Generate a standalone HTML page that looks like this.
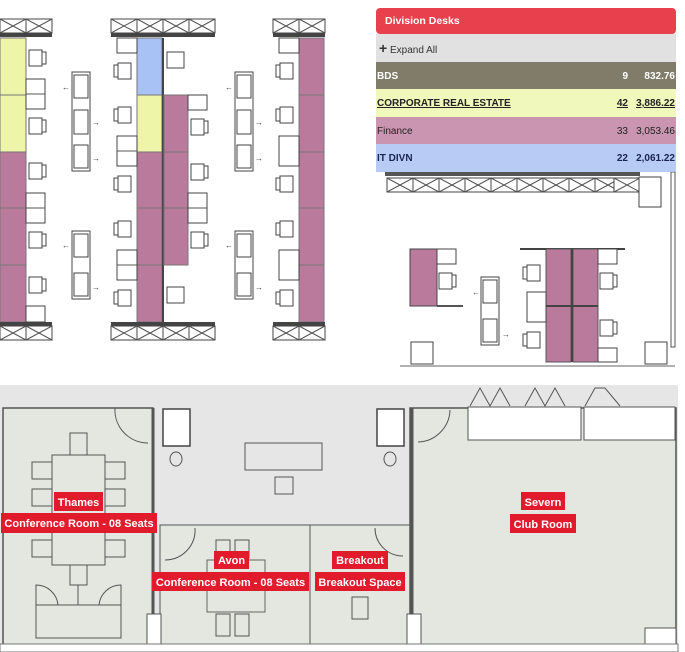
<!DOCTYPE html>
<html><head><meta charset="utf-8"><style>
html,body{margin:0;padding:0;background:#fff;}
svg{display:block;font-family:"Liberation Sans",Arial,sans-serif;}
.l{fill:#fff;stroke:#444;stroke-width:1}
.lt{fill:none;stroke:#555;stroke-width:1}
.lab{fill:#fff;font-weight:bold;font-size:11px}
</style></head><body>
<svg width="685" height="652" viewBox="0 0 685 652" xmlns="http://www.w3.org/2000/svg">
<defs>
<g id="chairR"><rect x="0" y="0" width="13" height="16" class="l"/><rect x="13" y="2" width="4" height="12" class="l"/></g>
<g id="chairL"><rect x="4" y="0" width="13" height="16" class="l"/><rect x="0" y="2" width="4" height="12" class="l"/></g>
<g id="xbox"><rect x="0" y="0" width="26" height="14" fill="#fff" stroke="#444"/><line x1="0" y1="0" x2="26" y2="14" stroke="#555"/><line x1="0" y1="14" x2="26" y2="0" stroke="#555"/></g>
</defs>

<g>
<use href="#xbox" x="0" y="19"/><use href="#xbox" x="26" y="19"/>
<rect x="0" y="33" width="52" height="4" fill="#444"/>
<rect x="0" y="38" width="26" height="114" fill="#eef5a8" stroke="#777"/>
<line x1="0" y1="95" x2="26" y2="95" stroke="#777"/>
<rect x="0" y="152" width="26" height="170" fill="#b97a9b" stroke="#777"/>
<line x1="0" y1="208" x2="26" y2="208" stroke="#777"/><line x1="0" y1="265" x2="26" y2="265" stroke="#777"/>
<rect x="26" y="79" width="19" height="30" class="l"/><line x1="26" y1="94" x2="45" y2="94" stroke="#555"/>
<rect x="26" y="193" width="19" height="30" class="l"/><line x1="26" y1="208" x2="45" y2="208" stroke="#555"/>
<rect x="26" y="306" width="19" height="16" class="l"/>
<use href="#chairR" x="29" y="50"/><use href="#chairR" x="29" y="118"/><use href="#chairR" x="29" y="163"/><use href="#chairR" x="29" y="232"/><use href="#chairR" x="29" y="277"/>
<rect x="0" y="322" width="52" height="4" fill="#444"/>
<use href="#xbox" x="0" y="326"/><use href="#xbox" x="26" y="326"/>
</g>
<g>
<rect x="72" y="72" width="18" height="99" class="l"/><rect x="74" y="75" width="14" height="23" class="l"/><rect x="74" y="110" width="14" height="24" class="l"/><rect x="74" y="145" width="14" height="23" class="l"/>
<rect x="72" y="231" width="18" height="68" class="l"/><rect x="74" y="234" width="14" height="23" class="l"/><rect x="74" y="273" width="14" height="23" class="l"/>
<rect x="235" y="72" width="18" height="99" class="l"/><rect x="237" y="75" width="14" height="23" class="l"/><rect x="237" y="110" width="14" height="24" class="l"/><rect x="237" y="145" width="14" height="23" class="l"/>
<rect x="235" y="231" width="18" height="68" class="l"/><rect x="237" y="234" width="14" height="23" class="l"/><rect x="237" y="273" width="14" height="23" class="l"/>
<text x="62" y="90" font-size="8" fill="#444">←</text><text x="92" y="125" font-size="8" fill="#444">→</text><text x="92" y="161" font-size="8" fill="#444">→</text>
<text x="62" y="248" font-size="8" fill="#444">←</text><text x="92" y="290" font-size="8" fill="#444">→</text>
<text x="225" y="90" font-size="8" fill="#444">←</text><text x="255" y="125" font-size="8" fill="#444">→</text><text x="255" y="161" font-size="8" fill="#444">→</text>
<text x="225" y="248" font-size="8" fill="#444">←</text><text x="255" y="290" font-size="8" fill="#444">→</text>
</g>
<g>
<use href="#xbox" x="111" y="19"/><use href="#xbox" x="137" y="19"/><use href="#xbox" x="163" y="19"/><use href="#xbox" x="189" y="19"/>
<rect x="111" y="33" width="104" height="4" fill="#444"/>
<rect x="137" y="38" width="25" height="57" fill="#a9c2f5" stroke="#777"/>
<rect x="137" y="95" width="25" height="57" fill="#eef5a8" stroke="#777"/>
<rect x="137" y="152" width="25" height="170" fill="#b97a9b" stroke="#777"/>
<line x1="137" y1="208" x2="162" y2="208" stroke="#777"/><line x1="137" y1="265" x2="162" y2="265" stroke="#777"/>
<rect x="162" y="38" width="2" height="284" fill="#444"/>
<rect x="164" y="95" width="24" height="170" fill="#b97a9b" stroke="#777"/>
<line x1="164" y1="152" x2="188" y2="152" stroke="#777"/><line x1="164" y1="208" x2="188" y2="208" stroke="#777"/>
<rect x="117" y="38" width="20" height="15" class="l"/>
<rect x="117" y="136" width="20" height="30" class="l"/><line x1="117" y1="151" x2="137" y2="151" stroke="#555"/>
<rect x="117" y="250" width="20" height="30" class="l"/><line x1="117" y1="265" x2="137" y2="265" stroke="#555"/>
<rect x="188" y="95" width="19" height="15" class="l"/>
<rect x="188" y="193" width="19" height="30" class="l"/><line x1="188" y1="208" x2="207" y2="208" stroke="#555"/>
<use href="#chairL" x="114" y="63"/><use href="#chairL" x="114" y="107"/><use href="#chairL" x="114" y="176"/><use href="#chairL" x="114" y="221"/><use href="#chairL" x="114" y="290"/>
<use href="#chairR" x="191" y="119"/><use href="#chairR" x="191" y="164"/><use href="#chairR" x="191" y="232"/>
<rect x="167" y="52" width="17" height="16" class="l"/><rect x="167" y="287" width="17" height="16" class="l"/>
<rect x="111" y="322" width="104" height="4" fill="#444"/>
<use href="#xbox" x="111" y="326"/><use href="#xbox" x="137" y="326"/><use href="#xbox" x="163" y="326"/><use href="#xbox" x="189" y="326"/>
</g>
<g>
<use href="#xbox" x="273" y="19"/><use href="#xbox" x="299" y="19"/>
<rect x="273" y="33" width="52" height="4" fill="#444"/>
<rect x="299" y="38" width="25" height="284" fill="#b97a9b" stroke="#777"/>
<line x1="299" y1="95" x2="324" y2="95" stroke="#777"/><line x1="299" y1="152" x2="324" y2="152" stroke="#777"/><line x1="299" y1="208" x2="324" y2="208" stroke="#777"/><line x1="299" y1="265" x2="324" y2="265" stroke="#777"/>
<rect x="279" y="38" width="20" height="15" class="l"/>
<rect x="279" y="136" width="20" height="30" class="l"/>
<rect x="279" y="250" width="20" height="30" class="l"/>
<use href="#chairL" x="276" y="63"/><use href="#chairL" x="276" y="107"/><use href="#chairL" x="276" y="176"/><use href="#chairL" x="276" y="221"/><use href="#chairL" x="276" y="290"/>
<rect x="273" y="322" width="52" height="4" fill="#444"/>
<use href="#xbox" x="273" y="326"/><use href="#xbox" x="299" y="326"/>
</g>

<g>
<rect x="385" y="172" width="255" height="4" fill="#555"/>
<g>
<use href="#xbox" x="387" y="178"/><use href="#xbox" x="413" y="178"/><use href="#xbox" x="439" y="178"/><use href="#xbox" x="465" y="178"/><use href="#xbox" x="491" y="178"/><use href="#xbox" x="517" y="178"/><use href="#xbox" x="543" y="178"/><use href="#xbox" x="569" y="178"/><use href="#xbox" x="595" y="178"/><use href="#xbox" x="614" y="178"/>
</g>
<rect x="639" y="177" width="22" height="30" class="l"/>
<rect x="671" y="172" width="4" height="175" fill="#fff" stroke="#555"/>
<rect x="410" y="249" width="27" height="57" fill="#b97a9b" stroke="#444"/>
<line x1="437" y1="306" x2="463" y2="306" stroke="#555" stroke-width="2"/>
<rect x="437" y="249" width="19" height="15" class="l"/>
<use href="#chairR" x="439" y="273"/>
<rect x="481" y="277" width="18" height="68" class="l"/><rect x="483" y="280" width="14" height="23" class="l"/><rect x="483" y="319" width="14" height="23" class="l"/>
<text x="472" y="295" font-size="8" fill="#444">←</text><text x="502" y="337" font-size="8" fill="#444">→</text>
<line x1="520" y1="249" x2="625" y2="249" stroke="#444" stroke-width="2"/>
<rect x="546" y="249" width="25" height="113" fill="#b97a9b" stroke="#555"/>
<rect x="573" y="249" width="25" height="113" fill="#b97a9b" stroke="#555"/>
<line x1="572" y1="249" x2="572" y2="362" stroke="#444" stroke-width="2"/>
<line x1="546" y1="306" x2="598" y2="306" stroke="#444" stroke-width="2"/>
<rect x="527" y="292" width="19" height="30" class="l"/>
<rect x="598" y="249" width="19" height="15" class="l"/><rect x="598" y="348" width="19" height="14" class="l"/>
<use href="#chairL" x="523" y="265"/><use href="#chairL" x="523" y="332"/>
<use href="#chairR" x="600" y="273"/><use href="#chairR" x="600" y="320"/>
<rect x="411" y="342" width="22" height="22" class="l"/><rect x="645" y="342" width="22" height="22" class="l"/>
<line x1="400" y1="366" x2="675" y2="366" stroke="#666"/>
</g>

<g opacity="0.85">
<rect x="376" y="8" width="300" height="26" rx="4" fill="#e5202e"/>
<rect x="376" y="34" width="300" height="28" fill="#dcdcdc"/>
<rect x="376" y="62" width="300" height="27" fill="#6c6450"/>
<rect x="376" y="89" width="300" height="28" fill="#eef7b0"/>
<rect x="376" y="117" width="300" height="27" fill="#c083a3"/>
<rect x="376" y="144" width="300" height="28" fill="#abc2f3"/>
</g>
<text x="385" y="24" fill="#fff" font-size="10.5" font-weight="bold">Division Desks</text>
<text x="379" y="53" fill="#333" font-size="10"><tspan font-weight="bold" font-size="14">+</tspan> Expand All</text>
<g font-size="10" font-weight="bold">
<text x="377" y="79" fill="#fff">BDS</text><text x="628" y="79" fill="#fff" text-anchor="end">9</text><text x="675" y="79" fill="#fff" text-anchor="end">832.76</text>
<text x="377" y="106" fill="#222" text-decoration="underline">CORPORATE REAL ESTATE</text><text x="628" y="106" fill="#222" text-anchor="end" text-decoration="underline">42</text><text x="675" y="106" fill="#222" text-anchor="end" text-decoration="underline">3,886.22</text>
<text x="377" y="134" fill="#222" font-weight="normal">Finance</text><text x="628" y="134" fill="#222" text-anchor="end" font-weight="normal">33</text><text x="675" y="134" fill="#222" text-anchor="end" font-weight="normal">3,053.46</text>
<text x="377" y="161" fill="#1a2550">IT DIVN</text><text x="628" y="161" fill="#1a2550" text-anchor="end">22</text><text x="675" y="161" fill="#1a2550" text-anchor="end">2,061.22</text>
</g>

<g>
<rect x="0" y="385" width="678" height="267" fill="#e6e6e6"/>
<rect x="678" y="385" width="7" height="267" fill="#fff"/>
<rect x="3" y="408" width="150" height="237" fill="#e3e7df" stroke="#555" stroke-width="1.5"/>
<line x1="153" y1="408" x2="153" y2="645" stroke="#555" stroke-width="3"/>
<path d="M115 408 A33 33 0 0 0 148 443" class="lt"/>
<rect x="160" y="525" width="150" height="120" fill="#e3e7df" stroke="#555"/>
<rect x="310" y="525" width="100" height="120" fill="#e3e7df" stroke="#555"/>
<path d="M165 560 A30 30 0 0 0 195 528" class="lt"/>
<path d="M375 528 A28 28 0 0 0 403 556" class="lt"/>
<rect x="410" y="408" width="266" height="237" fill="#e3e7df" stroke="#555" stroke-width="1.5"/>
<line x1="412" y1="408" x2="412" y2="645" stroke="#555" stroke-width="3"/>
<rect x="468" y="407" width="113" height="33" fill="#fff" stroke="#555"/>
<rect x="584" y="407" width="91" height="33" fill="#fff" stroke="#555"/>
<path d="M418 442 A33 33 0 0 0 450 410" class="lt"/>
<path d="M470 406 L480 388 L490 406 L500 388 L510 406 M525 406 L535 388 L545 406 L555 388 L565 406 M585 406 L595 388 L605 388 L620 406" class="lt"/>
<rect x="645" y="628" width="31" height="20" fill="#fff" stroke="#555"/>
<rect x="407" y="614" width="14" height="31" fill="#fff" stroke="#555"/>
<rect x="147" y="614" width="14" height="31" fill="#fff" stroke="#555"/>
<rect x="0" y="644" width="678" height="8" fill="#fff" stroke="#777"/>
<rect x="163" y="409" width="27" height="37" fill="#fff" stroke="#444" stroke-width="1.5"/>
<rect x="377" y="409" width="27" height="37" fill="#fff" stroke="#444" stroke-width="1.5"/>
<ellipse cx="176" cy="459" rx="6" ry="7" class="lt"/><ellipse cx="390" cy="459" rx="6" ry="7" class="lt"/>
<rect x="245" y="443" width="77" height="27" fill="none" stroke="#555"/>
<rect x="275" y="477" width="18" height="17" class="lt"/>
<rect x="52" y="455" width="53" height="110" fill="none" stroke="#555"/>
<rect x="70" y="433" width="17" height="22" class="lt"/>
<rect x="32" y="462" width="20" height="17" class="lt"/><rect x="32" y="489" width="20" height="17" class="lt"/><rect x="32" y="540" width="20" height="17" class="lt"/>
<rect x="105" y="462" width="20" height="17" class="lt"/><rect x="105" y="489" width="20" height="17" class="lt"/><rect x="105" y="540" width="20" height="17" class="lt"/>
<rect x="70" y="565" width="17" height="20" class="lt"/>
<rect x="36" y="605" width="85" height="33" fill="none" stroke="#555"/>
<path d="M36 605 V585 A22 22 0 0 1 58 605 M121 605 V585 A22 22 0 0 0 99 605 M78 585 V605" class="lt"/>
<rect x="207" y="560" width="58" height="52" fill="none" stroke="#666"/>
<rect x="216" y="540" width="14" height="18" class="lt"/><rect x="235" y="540" width="14" height="18" class="lt"/>
<rect x="216" y="614" width="14" height="22" class="lt"/><rect x="235" y="614" width="14" height="22" class="lt"/>
<rect x="352" y="597" width="16" height="22" class="lt"/>
</g>
<g>
<rect x="54" y="492" width="49" height="19" fill="#e21b2c"/><text x="78.5" y="506" class="lab" text-anchor="middle">Thames</text>
<rect x="1" y="513" width="156" height="20" fill="#e21b2c"/><text x="79" y="527" class="lab" text-anchor="middle">Conference Room - 08 Seats</text>
<rect x="214" y="551" width="35" height="18" fill="#e21b2c"/><text x="231.5" y="564" class="lab" text-anchor="middle">Avon</text>
<rect x="152" y="572" width="157" height="19" fill="#e21b2c"/><text x="230.5" y="586" class="lab" text-anchor="middle">Conference Room - 08 Seats</text>
<rect x="332" y="551" width="56" height="18" fill="#e21b2c"/><text x="360" y="564" class="lab" text-anchor="middle">Breakout</text>
<rect x="315" y="572" width="90" height="19" fill="#e21b2c"/><text x="360" y="586" class="lab" text-anchor="middle">Breakout Space</text>
<rect x="521" y="492" width="44" height="18" fill="#e21b2c"/><text x="543" y="506" class="lab" text-anchor="middle">Severn</text>
<rect x="510" y="514" width="66" height="19" fill="#e21b2c"/><text x="543" y="528" class="lab" text-anchor="middle">Club Room</text>
</g>
</svg>
</body></html>
